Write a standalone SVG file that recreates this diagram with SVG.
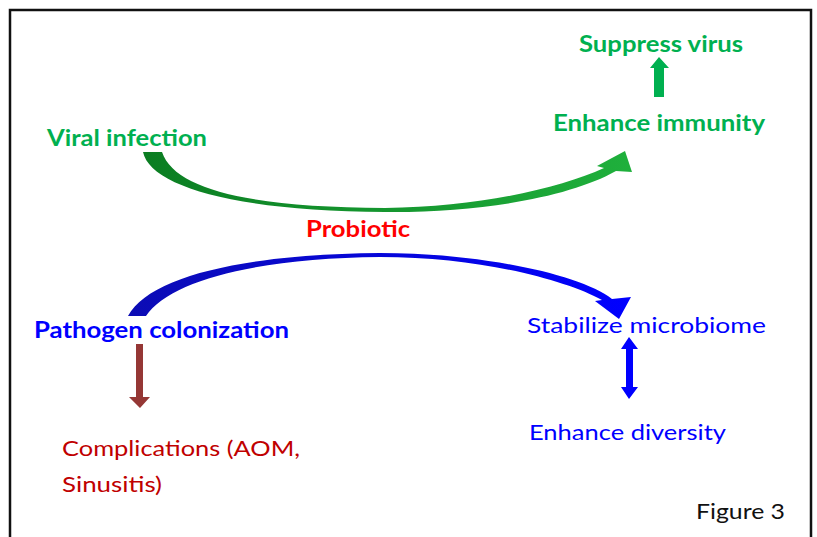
<svg xmlns="http://www.w3.org/2000/svg" width="817" height="537" viewBox="0 0 817 537">
<style>
.t{font-family:Lato,"Open Sans","Liberation Sans",sans-serif;font-size:22px}
.b{font-weight:bold}
.g{fill:#00b050}
.bl{fill:#0000ff}
.r{fill:#ff0000}
.dr{fill:#c00000}
</style>
<defs>
<linearGradient id="gg" x1="0" y1="0" x2="1" y2="0">
<stop offset="0" stop-color="#0b7d22"/>
<stop offset="1" stop-color="#1fb03c"/>
</linearGradient>
<linearGradient id="bg" x1="0" y1="0" x2="1" y2="0">
<stop offset="0" stop-color="#0c0cb4"/>
<stop offset="1" stop-color="#0000ff"/>
</linearGradient>
</defs>
<rect x="0" y="0" width="817" height="537" fill="#fff"/>
<rect x="10" y="10" width="801" height="545" fill="none" stroke="#111" stroke-width="2.5"/>
<g id="connectors">
<path id="green-curve" fill="url(#gg)" d="M143,152 C150,185 230,211 385,212 C480,213 570,197 616,171 L632,172 L625,151 L597,166 L604,168 C560,188 480,207 385,208 C250,207 175,190 162,152 Z"/>
<path id="blue-curve" fill="url(#bg)" d="M128,316 C150,275 250,254 380,253 C480,253 580,274 612,299 L631,297 L619,319 L595,301 L602,300 C565,280 480,257 380,257 C260,258 170,280 146,316 Z"/>
<polygon id="up-arrow" fill="#00b050" points="654,97 664,97 664,68 669,68 659,57 650,68 654,68"/>
<polygon id="down-arrow" fill="#953735" points="136,344 143,344 143,397 150,397 140,408 129,397 136,397"/>
<polygon id="double-arrow" fill="#0000ff" points="629,337 638,349 633,349 633,387 638,387 629,399 621,387 626,387 626,349 621,349"/>
</g>
<g id="suppress-virus"><text class="t b g" x="579" y="52" textLength="164" lengthAdjust="spacingAndGlyphs">Suppress virus</text></g>
<g id="enhance-immunity"><text class="t b g" x="553" y="131" textLength="212" lengthAdjust="spacingAndGlyphs">Enhance immunity</text></g>
<g id="viral-infection"><text class="t b g" x="47" y="146" textLength="160" lengthAdjust="spacingAndGlyphs">Viral infection</text></g>
<g id="probiotic"><text class="t b r" x="306" y="237" textLength="104" lengthAdjust="spacingAndGlyphs">Probiotic</text></g>
<g id="pathogen-colonization"><text class="t b bl" x="34" y="338" textLength="255" lengthAdjust="spacingAndGlyphs">Pathogen colonization</text></g>
<g id="stabilize-microbiome"><text class="t bl" x="527" y="333" textLength="239" lengthAdjust="spacingAndGlyphs">Stabilize microbiome</text></g>
<g id="enhance-diversity"><text class="t bl" x="529" y="440" textLength="197" lengthAdjust="spacingAndGlyphs">Enhance diversity</text></g>
<g id="complications"><text class="t dr" x="62" y="456" textLength="238" lengthAdjust="spacingAndGlyphs">Complications (AOM,</text><text class="t dr" x="62" y="492" textLength="100" lengthAdjust="spacingAndGlyphs">Sinusitis)</text></g>
<g id="figure-label"><text class="t" fill="#111" x="696" y="519" textLength="89" lengthAdjust="spacingAndGlyphs">Figure 3</text></g>
</svg>
